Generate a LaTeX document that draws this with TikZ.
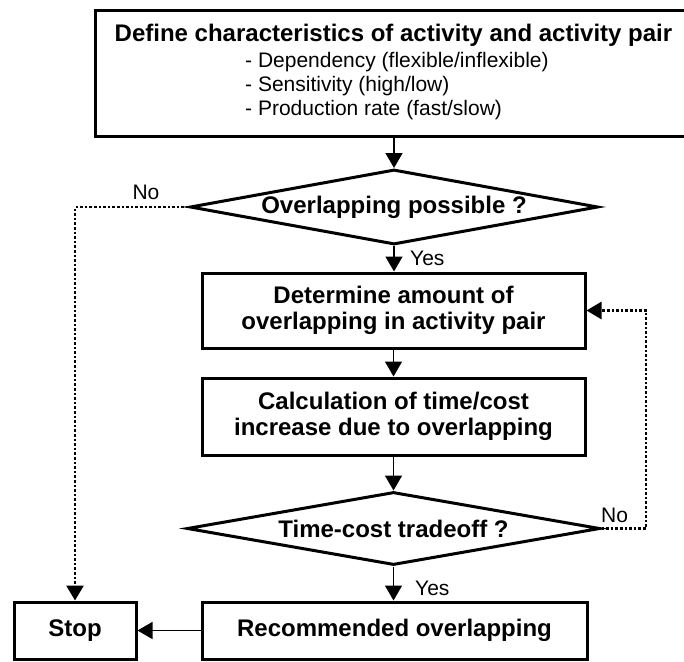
\documentclass[tikz,border=0pt]{standalone}
\usepackage{fontspec}
\setmainfont{Liberation Sans}
\usetikzlibrary{shapes.geometric,arrows.meta}
\newcommand\bfnt{\fontsize{24pt}{26.5pt}\selectfont\bfseries}
\newcommand\rgfnt{\fontsize{21pt}{24pt}\selectfont}
\begin{document}
\begin{tikzpicture}[x=1pt,y=-1pt,
  boxnode/.style={draw, line width=3pt, rectangle, inner sep=0pt, align=center, font=\bfnt},
  decnode/.style={draw, line width=3pt, diamond, aspect=5.4, inner sep=0pt, font=\bfnt},
  txt/.style={inner sep=0pt},
  arr/.style={line width=1.6pt, -{Triangle[length=15pt,width=17pt]}},
  dotarr/.style={line width=2.8pt, dash pattern=on 2.6pt off 2pt, -{Triangle[length=15pt,width=17pt]}},
  lbl/.style={font=\rgfnt, inner sep=0pt}
]
\useasboundingbox (0,0) rectangle (684,661);

% top box
\node[boxnode, minimum width=592pt, minimum height=126pt] (top) at (391,73.5) {};
\node[txt, font=\bfnt] (title) at (393.5,35) {Define characteristics of activity and activity pair};
\node[txt, font=\rgfnt, anchor=west] (c1) at (245,62) {- Dependency (flexible/inflexible)};
\node[txt, font=\rgfnt, anchor=west] (c2) at (245,86) {- Sensitivity (high/low)};
\node[txt, font=\rgfnt, anchor=west] (c3) at (245,110) {- Production rate (fast/slow)};

% decision 1
\node[decnode, minimum width=408pt, minimum height=75pt] (d1) at (394,207) {Overlapping possible ?};

% boxes
\node[boxnode, minimum width=383pt, minimum height=75pt] (b2) at (393.5,310.5) {Determine amount of\\overlapping in activity pair};
\node[boxnode, minimum width=383pt, minimum height=77pt] (b3) at (393.5,416.5) {Calculation of time/cost\\increase due to overlapping};

% decision 2
\node[decnode, minimum width=413pt, minimum height=73pt] (d2) at (393.5,528.5) {Time-cost tradeoff ?};

% bottom boxes
\node[boxnode, minimum width=385pt, minimum height=57pt] (b4) at (394.5,630.5) {Recommended overlapping};
\node[boxnode, minimum width=122pt, minimum height=57pt] (stop) at (75,630.5) {Stop};

% labels
\node[lbl, anchor=west] (yes1) at (410,258) {Yes};
\node[lbl, anchor=west] (yes2) at (415,588) {Yes};
\node[lbl] (no1) at (146,192) {No};
\node[lbl, anchor=west] (no2) at (601,515) {No};

\coordinate (fb) at (646,0);

% connectors
\draw[arr] (top.south -| d1.north) -- (d1.north);
\draw[arr] (d1.south) -- (b2.north -| d1.south);
\draw[arr] (b2.south) -- (b3.north);
\draw[arr] (b3.south) -- (d2.north);
\draw[arr] (d2.south) -- (b4.north -| d2.south);
\draw[arr] (b4.west) -- (stop.east);

\draw[dotarr] (d1.west) -- (d1.west -| stop.north) -- (stop.north);
\draw[dotarr] (d2.east) -- (d2.east -| fb) -- (b2.east -| fb) -- (b2.east);
\end{tikzpicture}
\end{document}
